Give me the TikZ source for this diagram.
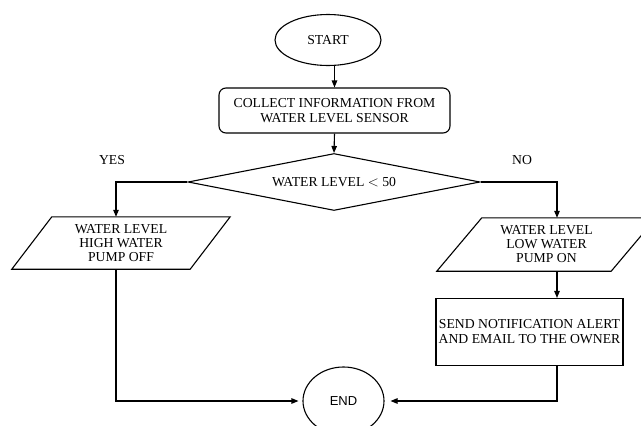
\documentclass[tikz,border=0pt]{standalone}
\usepackage{fontspec}
\setmainfont{Liberation Serif}
\newfontfamily\endfont{Liberation Sans}
\usetikzlibrary{shapes.geometric,arrows.meta}
\begin{document}
\begin{tikzpicture}[x=1pt,y=-1pt,
  every node/.style={font=\fontsize{13.7}{14.5}\selectfont, align=center, inner sep=0pt},
  line/.style={line width=1.1pt},
  arr/.style={line, -{Triangle[length=7pt,width=5.5pt]}},
  term/.style={draw, line width=1.1pt, ellipse},
  procbox/.style={draw, line width=1.1pt, rectangle},
  iotext/.style={rectangle, font=\fontsize{13.7}{14}\selectfont}
]
\useasboundingbox (0,0) rectangle (641,426);

\node[term, minimum width=106pt, minimum height=51pt] (start) at (328,40) {START};
\node[procbox, rounded corners=7pt, minimum width=231pt, minimum height=45pt,
      font=\fontsize{13.7}{15}\selectfont] (collect) at (334.5,110.5)
      {COLLECT INFORMATION FROM\\WATER LEVEL SENSOR};
\node[draw, line width=1.1pt, diamond, aspect=5.1, minimum width=292pt, minimum height=57pt] (dec) at (334,182) {WATER LEVEL $<$ 50};
\node (yes) at (112,160) {YES};
\node (no) at (522,160) {NO};
\node[iotext, minimum width=178pt, minimum height=52pt] (lp) at (121,243)
      {WATER LEVEL\\HIGH WATER\\PUMP OFF};
\draw[line] ([xshift=20pt]lp.north west) -- ([xshift=20pt]lp.north east)
   -- ([xshift=-20pt]lp.south east) -- ([xshift=-20pt]lp.south west) -- cycle;
\node[iotext, minimum width=174pt, minimum height=53pt] (rp) at (546.5,244.5)
      {WATER LEVEL\\LOW WATER\\PUMP ON};
\draw[line] ([xshift=22.5pt]rp.north west) -- ([xshift=22.5pt]rp.north east)
   -- ([xshift=-22.5pt]rp.south east) -- ([xshift=-22.5pt]rp.south west) -- cycle;
\node[procbox, minimum width=187pt, minimum height=67pt, font=\fontsize{13.7}{15}\selectfont] (send) at (529.5,332)
      {SEND NOTIFICATION ALERT\\AND EMAIL TO THE OWNER};
\node[term, minimum width=81pt, minimum height=68pt, font=\endfont\fontsize{13}{15}\selectfont] (end) at (343.5,401) {END};

\coordinate (lx) at (116,0);
\coordinate (rx) at (557,0);

\draw[arr] (collect.north |- start.south) -- (collect.north);
\draw[arr] (collect.south) -- (dec.north);
\draw[arr] (dec.west) -| (lx |- lp.north);
\draw[arr] (dec.east) -| (rx |- rp.north);
\draw[arr, shorten >=4pt] (lx |- lp.south) |- (end.west);
\draw[arr] (rx |- rp.south) -- (rx |- send.north);
\draw[arr, shorten >=6pt] (rx |- send.south) |- (end.east);
\end{tikzpicture}
\end{document}
